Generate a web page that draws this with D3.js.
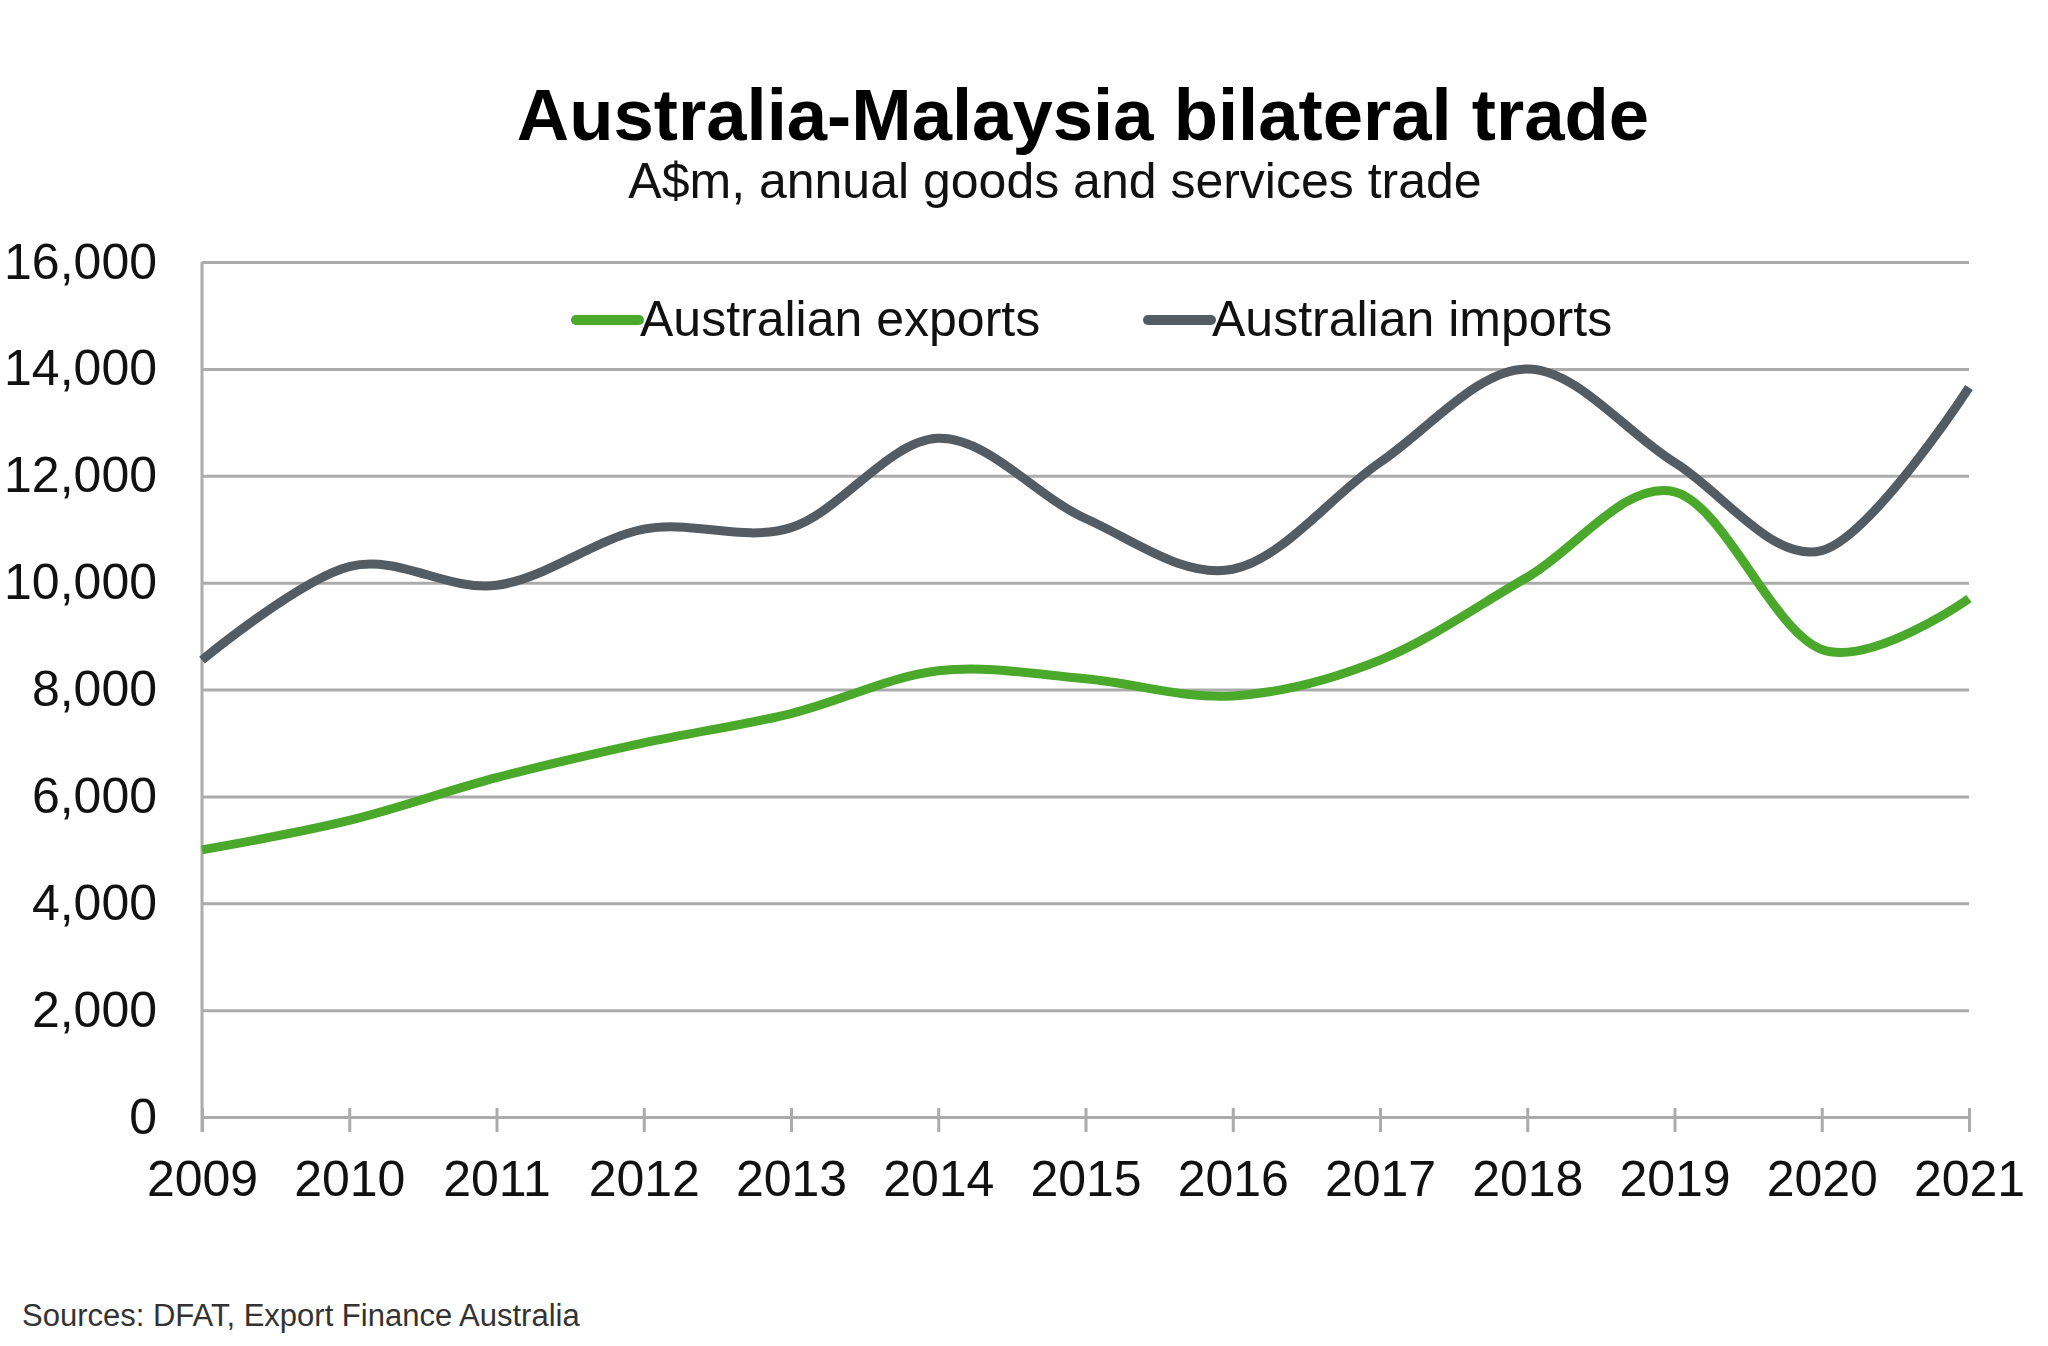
<!DOCTYPE html>
<html>
<head>
<meta charset="utf-8">
<script src="https://cdn.jsdelivr.net/npm/d3@7"></script>
<style>
  html, body { margin: 0; padding: 0; background: #ffffff; }
  svg { display: block; }
  text { font-family: "Liberation Sans", Arial, sans-serif; }
</style>
</head>
<body>
<svg id="chart" width="2048" height="1346"></svg>
<script>
const years = [2009, 2010, 2011, 2012, 2013, 2014, 2015, 2016, 2017, 2018, 2019, 2020, 2021];
const exportsValues = [5000, 5550, 6350, 7000, 7550, 8350, 8200, 7880, 8550, 10100, 11700, 8750, 9700];
const importsValues = [8550, 10300, 9950, 11000, 11030, 12700, 11200, 10250, 12250, 14000, 12250, 10600, 13650];
const yTicks = [0, 2000, 4000, 6000, 8000, 10000, 12000, 14000, 16000];
const seriesNames = ["Australian exports", "Australian imports"];
const seriesColors = ["#4aa82a", "#535c62"];

const svg = d3.select("#chart");
const plotLeft = 202, plotRight = 1969, plotTop = 262, plotBottom = 1117;

const x = d3.scaleLinear().domain([2009, 2021]).range([plotLeft, plotRight]);
const y = d3.scaleLinear().domain([0, 16000]).range([plotBottom, plotTop]);

// Title & subtitle
svg.append("text").attr("x", 1083).attr("y", 140).attr("text-anchor", "middle")
  .attr("font-size", 72.5).attr("font-weight", "bold").attr("fill", "#000")
  .text("Australia-Malaysia bilateral trade");
svg.append("text").attr("x", 1055).attr("y", 198).attr("text-anchor", "middle")
  .attr("font-size", 50).attr("fill", "#111")
  .text("A$m, annual goods and services trade");

// Gridlines + y labels
const yAxis = d3.axisLeft(y).tickValues(yTicks).tickSize(-(plotRight - plotLeft)).tickPadding(45)
  .tickFormat(d3.format(","));
const gy = svg.append("g").attr("transform", `translate(${plotLeft},0)`).call(yAxis);
gy.select(".domain").remove();
gy.selectAll(".tick line").attr("stroke", "#ababab").attr("stroke-width", 3);
gy.selectAll(".tick text").attr("font-size", 50).attr("fill", "#111")
  .attr("font-family", "'Liberation Sans', Arial, sans-serif");

// Left axis line
svg.append("line").attr("x1", plotLeft).attr("x2", plotLeft).attr("y1", plotTop).attr("y2", plotBottom + 15)
  .attr("stroke", "#ababab").attr("stroke-width", 3);

// X axis ticks and labels
const xAxis = d3.axisBottom(x).tickValues(years).tickSize(15).tickPadding(28)
  .tickFormat(d3.format("d"));
const gx = svg.append("g").attr("transform", `translate(0,${plotBottom})`).call(xAxis);
gx.select(".domain").remove();
gx.selectAll(".tick line").attr("stroke", "#ababab").attr("stroke-width", 3).attr("y1", -9);
gx.selectAll(".tick text").attr("font-size", 50).attr("fill", "#111")
  .attr("font-family", "'Liberation Sans', Arial, sans-serif");

// Lines
const line = d3.line().x((d, i) => x(years[i])).y(d => y(d)).curve(d3.curveCatmullRom.alpha(0));
[exportsValues, importsValues].forEach((vals, k) => {
  svg.append("path").datum(vals).attr("d", line).attr("fill", "none")
    .attr("stroke", seriesColors[k]).attr("stroke-width", 9)
    .attr("stroke-linecap", "butt").attr("stroke-linejoin", "round");
});

// Legend
const legendX = [576, 1148];
seriesNames.forEach((name, k) => {
  svg.append("line").attr("x1", legendX[k]).attr("x2", legendX[k] + 63)
    .attr("y1", 320).attr("y2", 320).attr("stroke", seriesColors[k])
    .attr("stroke-width", 10).attr("stroke-linecap", "round");
  svg.append("text").attr("x", legendX[k] + 64).attr("y", 336)
    .attr("font-size", 50).attr("fill", "#111").text(name);
});

// Source
svg.append("text").attr("x", 22).attr("y", 1326).attr("font-size", 31).attr("fill", "#333")
  .text("Sources: DFAT, Export Finance Australia");
</script>
</body>
</html>
